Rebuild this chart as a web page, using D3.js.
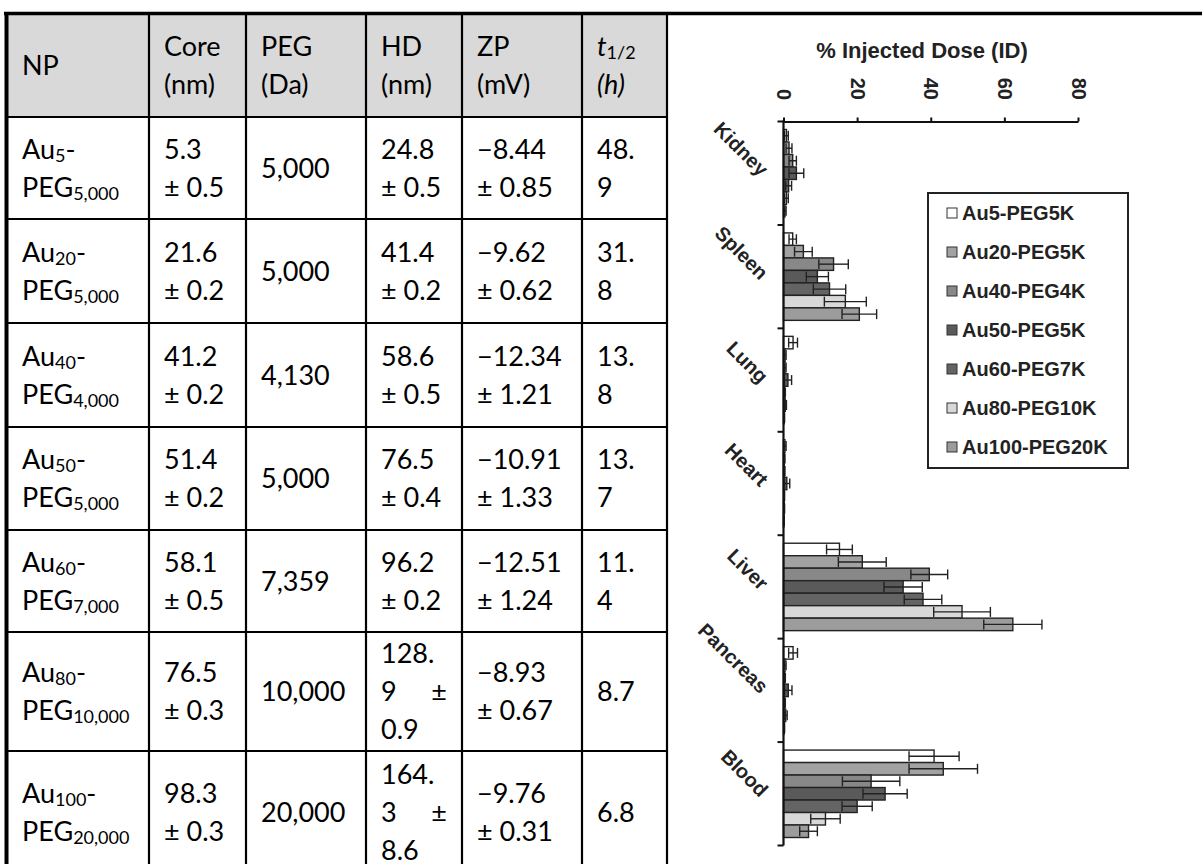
<!DOCTYPE html>
<html><head><meta charset="utf-8">
<script src="https://cdn.jsdelivr.net/npm/d3@7"></script>
<style>body{margin:0;background:#fff}svg{display:block}</style>
</head><body><svg id="c" width="1202" height="864"></svg>
<script>
// ---------- table data ----------
const headerTop = ["NP","Core","PEG","HD","ZP","t"];
const headerBottom = ["","(nm)","(Da)","(nm)","(mV)","(h)"];
const npCore = ["5","20","40","50","60","80","100"];
const npPeg = ["5,000","5,000","4,000","5,000","7,000","10,000","20,000"];
const coreMean = ["5.3","21.6","41.2","51.4","58.1","76.5","98.3"];
const coreSd = ["0.5","0.2","0.2","0.2","0.5","0.3","0.3"];
const pegDa = ["5,000","5,000","4,130","5,000","7,359","10,000","20,000"];
const hdMean = ["24.8","41.4","58.6","76.5","96.2","128.9","164.3"];
const hdSd = ["0.5","0.2","0.5","0.4","0.2","0.9","8.6"];
const zpMean = ["\u22128.44","\u22129.62","\u221212.34","\u221210.91","\u221212.51","\u22128.93","\u22129.76"];
const zpSd = ["0.85","0.62","1.21","1.33","1.24","0.67","0.31"];
const tHalf = ["48.9","31.8","13.8","13.7","11.4","8.7","6.8"];

// ---------- chart data ----------
const organs = ["Kidney","Spleen","Lung","Heart","Liver","Pancreas","Blood"];
const seriesNames = ["Au5-PEG5K","Au20-PEG5K","Au40-PEG4K","Au50-PEG5K","Au60-PEG7K","Au80-PEG10K","Au100-PEG20K"];
const au5Val   = [0.8, 2.5, 2.6, 0.4, 15.2, 2.6, 40.9];
const au20Val  = [1.5, 5.4, 0.4, 0.2, 21.4, 0.4, 43.4];
const au40Val  = [2.5, 13.6, 0.4, 0.2, 39.6, 0.3, 23.8];
const au50Val  = [3.5, 9.2, 1.2, 0.9, 32.5, 1.3, 27.6];
const au60Val  = [1.4, 12.5, 0.3, 0.2, 37.9, 0.3, 20.0];
const au80Val  = [0.8, 16.8, 0.5, 0.2, 48.5, 0.6, 11.4];
const au100Val = [0.4, 20.6, 0.2, 0.1, 62.3, 0.2, 6.8];
const au5Err   = [0.5, 1.0, 1.2, 0.3, 3.5, 1.2, 6.8];
const au20Err  = [0.8, 2.4, 0.3, 0.2, 6.5, 0.3, 9.3];
const au40Err  = [1.0, 4.0, 0.3, 0.2, 5.0, 0.2, 7.8];
const au50Err  = [2.0, 3.0, 1.0, 0.8, 5.2, 1.0, 6.0];
const au60Err  = [0.8, 4.4, 0.2, 0.1, 5.1, 0.2, 4.1];
const au80Err  = [0.5, 5.7, 0.3, 0.1, 7.7, 0.4, 4.0];
const au100Err = [0.3, 4.7, 0.1, 0.1, 7.9, 0.1, 2.4];
const xTicks = [0, 20, 40, 60, 80];
const axisTitle = "% Injected Dose (ID)";

const seriesVals = [au5Val, au20Val, au40Val, au50Val, au60Val, au80Val, au100Val];
const seriesErrs = [au5Err, au20Err, au40Err, au50Err, au60Err, au80Err, au100Err];
const seriesColors = ["#ffffff","#a2a2a2","#888888","#5a5a5a","#646464","#d8d8d8","#9c9c9c"];

const svg = d3.select("#c");
svg.append("rect").attr("width",1202).attr("height",864).attr("fill","#fff");

// ---------- table ----------
const colX = [7,149,246,366,462,582,667];
const rowY = [13,117,219,323,427,530,632,751,873];
const FS = 27, SUB = 18, LS = 38, PAD = 15;
const tfont = "Lato, 'Open Sans', sans-serif";

svg.append("rect").attr("x",colX[0]).attr("y",rowY[0]).attr("width",colX[6]-colX[0]).attr("height",rowY[1]-rowY[0]).attr("fill","#d9d9d9");

const tg = svg.append("g").attr("font-family",tfont).attr("font-size",FS).attr("fill","#000");

function drawCell(col,row,lines){
  const cy = (rowY[row]+rowY[row+1])/2;
  const n = lines.length;
  lines.forEach((ln,i)=>{
    const base = cy + (i-(n-1)/2)*LS + 9.5;
    const t = tg.append("text").attr("x",colX[col]+PAD).attr("y",base);
    ln.forEach(p=>{
      if(p.right){
        tg.append("text").attr("x",colX[col+1]-PAD).attr("y",base).attr("text-anchor","end").text(p.t);
        return;
      }
      const s = t.append("tspan").text(p.t);
      if(p.sub){ s.attr("font-size",SUB).attr("dy",3); }
      else if(p.after){ s.attr("dy",-3); }
      if(p.it) s.attr("font-style","italic");
    });
  });
}
// header
headerTop.forEach((h,c)=>{
  if(c===5){
    drawCell(c,0,[[{t:"t",it:true},{t:"1/2",sub:true}],[{t:headerBottom[c],it:true}]]);
  } else if(headerBottom[c]===""){
    drawCell(c,0,[[{t:h}]]);
  } else {
    drawCell(c,0,[[{t:h}],[{t:headerBottom[c]}]]);
  }
});
// body
npCore.forEach((nc,i)=>{
  const r=i+1;
  drawCell(0,r,[[{t:"Au"},{t:nc,sub:true},{t:"-",after:true}],[{t:"PEG"},{t:npPeg[i],sub:true}]]);
  drawCell(1,r,[[{t:coreMean[i]}],[{t:"\u00b1 "+coreSd[i]}]]);
  drawCell(2,r,[[{t:pegDa[i]}]]);
  if(hdMean[i].length>4){
    const parts = hdMean[i].split(".");
    drawCell(3,r,[[{t:parts[0]+"."}],[{t:parts[1]},{t:"\u00b1",right:true}],[{t:hdSd[i]}]]);
  } else {
    drawCell(3,r,[[{t:hdMean[i]}],[{t:"\u00b1 "+hdSd[i]}]]);
  }
  drawCell(4,r,[[{t:zpMean[i]}],[{t:"\u00b1 "+zpSd[i]}]]);
  if(tHalf[i].length>3){
    drawCell(5,r,[[{t:tHalf[i].slice(0,3)}],[{t:tHalf[i].slice(3)}]]);
  } else {
    drawCell(5,r,[[{t:tHalf[i]}]]);
  }
});
// grid
const grid = svg.append("g").attr("stroke","#000").attr("stroke-width",2.2);
colX.slice(1).forEach(x=>grid.append("line").attr("x1",x).attr("x2",x).attr("y1",rowY[0]).attr("y2",880));
rowY.slice(1,-1).forEach(y=>grid.append("line").attr("x1",colX[0]).attr("x2",colX[6]).attr("y1",y).attr("y2",y));
svg.append("line").attr("x1",4).attr("x2",1202).attr("y1",13.5).attr("y2",13.5).attr("stroke","#000").attr("stroke-width",3.5);
svg.append("line").attr("x1",6.5).attr("x2",6.5).attr("y1",12).attr("y2",880).attr("stroke","#000").attr("stroke-width",4);

// ---------- chart ----------
svg.append("clipPath").attr("id","cc").append("rect").attr("x",668.5).attr("y",15.5).attr("width",540).attr("height",860);
const ch = svg.append("g").attr("clip-path","url(#cc)").attr("font-family","'Liberation Sans', Arial, sans-serif").attr("font-weight","bold");

const x = d3.scaleLinear().domain([0,80]).range([783.5,1078]);
const y0 = d3.scaleBand().domain(organs).range([121.5,845.5]);
const y1 = d3.scaleBand().domain(seriesNames).range([8, y0.bandwidth()-8]);

// title
ch.append("text").attr("x",922).attr("y",50).attr("text-anchor","middle").attr("dominant-baseline","central")
  .attr("font-size",22).attr("fill","#222").text(axisTitle);

// top axis
const ax = ch.append("g").attr("transform","translate(0,121.5)")
  .call(d3.axisTop(x).tickValues(xTicks).tickSize(4).tickSizeOuter(0).tickFormat(d3.format("d")));
ax.select(".domain").attr("stroke","#111").attr("stroke-width",2.2);
ax.selectAll(".tick line").attr("stroke","#111").attr("stroke-width",2);
ax.selectAll(".tick text").attr("transform","rotate(90)").attr("x",-21.5).attr("y",0).attr("dy",0)
  .attr("text-anchor","end").attr("dominant-baseline","central").attr("font-size",20)
  .attr("font-family","'Liberation Sans', Arial, sans-serif").attr("font-weight","bold").attr("fill","#222");

// bars
const groups = ch.selectAll("g.org").data(organs).join("g").attr("class","org")
  .attr("transform",d=>`translate(0,${y0(d)})`);
groups.each(function(org,oi){
  const g = d3.select(this);
  seriesNames.forEach((s,si)=>{
    const v = seriesVals[si][oi];
    g.append("rect").attr("x",x(0)).attr("y",y1(s)).attr("width",x(v)-x(0)).attr("height",y1.bandwidth())
      .attr("fill",seriesColors[si]).attr("stroke","#222").attr("stroke-width",1.4);
  });
  seriesNames.forEach((s,si)=>{
    const v = seriesVals[si][oi], e = seriesErrs[si][oi];
    const cy = y1(s)+y1.bandwidth()/2, h = y1.bandwidth()*0.8;
    const lo = x(Math.max(0,v-e)), hi = x(v+e);
    g.append("line").attr("x1",lo).attr("x2",hi).attr("y1",cy).attr("y2",cy).attr("stroke","#222").attr("stroke-width",1.4);
    g.append("line").attr("x1",lo).attr("x2",lo).attr("y1",cy-h/2).attr("y2",cy+h/2).attr("stroke","#222").attr("stroke-width",1.4);
    g.append("line").attr("x1",hi).attr("x2",hi).attr("y1",cy-h/2).attr("y2",cy+h/2).attr("stroke","#222").attr("stroke-width",1.4);
  });
});

// left category axis
ch.append("line").attr("x1",x(0)).attr("x2",x(0)).attr("y1",y0.range()[0]-1).attr("y2",y0.range()[1]).attr("stroke","#111").attr("stroke-width",2.2);
organs.concat(["_end"]).forEach((o,i)=>{
  const yy = i<organs.length ? y0(o) : y0.range()[1];
  ch.append("line").attr("x1",x(0)-6).attr("x2",x(0)).attr("y1",yy).attr("y2",yy).attr("stroke","#111").attr("stroke-width",2);
});
organs.forEach(o=>{
  const cy = y0(o)+y0.bandwidth()/2;
  ch.append("text").attr("transform",`translate(764,${cy}) rotate(45)`).attr("text-anchor","end")
    .attr("dy","0.3em").attr("font-size",20).attr("fill","#222").text(o);
});

// legend
const lg = ch.append("g");
lg.append("rect").attr("x",928).attr("y",193).attr("width",200).attr("height",275).attr("fill","#fff").attr("stroke","#222").attr("stroke-width",2);
seriesNames.forEach((s,i)=>{
  const yy = 213 + i*39;
  lg.append("rect").attr("x",947).attr("y",yy-5).attr("width",10).attr("height",10)
    .attr("fill",seriesColors[i]).attr("stroke","#333").attr("stroke-width",1);
  lg.append("text").attr("x",962).attr("y",yy).attr("dominant-baseline","central").attr("font-size",20).attr("fill","#222").text(s);
});
</script></body></html>
